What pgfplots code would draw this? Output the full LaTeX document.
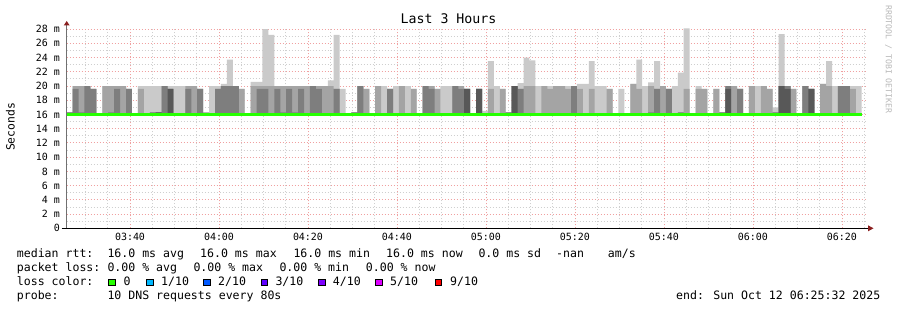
\documentclass[border=0pt]{standalone}
\usepackage{fontspec}
\setmainfont{DejaVu Sans Mono}
\setmonofont{DejaVu Sans Mono}
\usepackage{pgfplots}
\pgfplotsset{compat=1.18}
\usepackage{pgfplotstable}

\definecolor{smokeL}{HTML}{CACACA}
\definecolor{smokeM}{HTML}{A4A4A4}
\definecolor{smokeD}{HTML}{7E7E7E}
\definecolor{smokeK}{HTML}{585858}
\definecolor{medgreen}{HTML}{26FF00}
\definecolor{lc1}{HTML}{00B8FF}
\definecolor{lc2}{HTML}{0059FF}
\definecolor{lc3}{HTML}{5E00FF}
\definecolor{lc4}{HTML}{7E00FF}
\definecolor{lc5}{HTML}{DD00FF}
\definecolor{lc9}{HTML}{FF0000}
\definecolor{arrowred}{HTML}{8B2020}
\definecolor{ygrey}{HTML}{707070}
\definecolor{wmark}{HTML}{B8B8B8}
\definecolor{mgridc}{HTML}{F0A0A0}
\definecolor{ngridc}{HTML}{CFCFCF}

% smoke layers: K = 4th pair (darkest), D = 3rd, M = 2nd, L = outer (lightest); values in ms
\pgfplotstableread{
k K D M L
0 16 16.3 16.3 16.3
1 16 19.6 20 20
2 16 16.3 20 20
3 16 20 20 20
4 16 19.6 19.6 19.6
5 16 16 16 16.1
6 16 16 20 20
7 16 16.3 20 20
8 16 19.6 20 20
9 16 16 20 20
10 16 19.6 19.6 19.6
11 16 16 16 16.1
12 16 16 19.6 20
13 16 16 16 20
14 16 16.3 16.3 20
15 16.3 16.3 16.3 20
16 16 20 20 20
17 19.6 19.6 19.6 20
18 16 16 16 20
19 16 16 16 20
20 16 19.6 20 20
21 16 16 20 20
22 16 19.6 19.6 19.6
23 16 16 16.3 16.3
24 16 16 16 20
25 16 19.6 19.6 20
26 16 20 20 20.3
27 16 20 20 23.7
28 16 20 20 20
29 16 16 19.6 19.6
30 16 16 16 16.1
31 16 16 20 20.6
32 16 19.6 20 20.6
33 16 19.6 20 28
34 16 16 20 27.2
35 16 19.6 20 20
36 16 16.3 20 20
37 16 19.6 20 20
38 16 16.3 20 20
39 16 19.6 20 20
40 16 16 20 20
41 16 20 20 20
42 16 19.6 20 20
43 16 16 20 20
44 16 16 20 20.8
45 16 19.6 19.6 27.2
46 16 16 16 19.6
47 16 16 16 16
48 16 16.3 16.3 16.3
49 16 20 20 20
50 16 16 19.6 19.6
51 16 16 16 16
52 16 16 20 20
53 16 16 16 20
54 16 19.6 19.6 19.6
55 16 16 16 20
56 16 16 20 20
57 16 16 16 20
58 16 16 19.6 19.6
59 16 16 16 16.1
60 16 20 20 20
61 16 19.6 20 20
62 16 16 19.6 19.6
63 16 16 16 20
64 16 16 16 20
65 16 20 20 20
66 16 19.6 20 20
67 19.6 19.6 19.6 19.6
68 16 16 16 16
69 19.6 19.6 19.6 19.6
70 16 16 16 16.5
71 16 16 19.6 23.5
72 16 16 16 20
73 16 16 19.6 19.6
74 16 16.3 16.3 16.3
75 20 20 20 20
76 16 19.6 19.6 20.4
77 16 16 20 24
78 16 16 20 23.6
79 16 16 16 20
80 16 16 20 20
81 16 16 19.6 20
82 16 16 20 20
83 16 16 20 20
84 16 16 19.6 20
85 16 20 20 20
86 16 16 19.6 20.3
87 16 16 16 20.3
88 16 16 19.6 23.5
89 16 16 16 20
90 16 16 16 20
91 16 16 19.6 19.6
92 16 16 16 16
93 16 16 16 19.6
94 16 16 16 16.1
95 16 16 20.3 20.3
96 16 16 19.6 23.7
97 16 16 16 20
98 16 16.3 20 20.5
99 16 19.6 19.6 23.5
100 16 16 20 20
101 16 19.6 19.6 19.6
102 16 16 16 20
103 16 16.3 16.3 21.9
104 16 16 19.6 28.1
105 16 16 16 16
106 16 16 19.6 20
107 16 16 19.6 19.6
108 16 16 16 16
109 16 16 19.6 19.6
110 16 16.3 16.3 16.3
111 19.6 20 20 20
112 16 16 20 20
113 16 19.6 19.6 19.6
114 16 16 16 16
115 16 16 20 20
116 16 16 16 20
117 16 16 20 20
118 16 16 19.6 19.6
119 16 16.3 16.3 17
120 20 20 20 27.3
121 19.6 20 20 20
122 16 16 19.6 19.6
123 16 16 16 16
124 16 20 20 20
125 19.6 19.6 19.6 19.6
126 16 16 16 16
127 16 16 20.3 20.3
128 16 16 20 23.5
129 16 16 16 20
130 16 20 20 20
131 16 20 20 20
132 16 16 19.6 20
133 16 16 16 20
134 16 16 16 20
}\smoke

\begin{document}
\begin{tikzpicture}
\useasboundingbox (0,0) rectangle (897bp,310bp);
\begin{axis}[
  at={(66.7bp,81.7bp)}, anchor=south west,
  scale only axis, width=800bp, height=200.6bp,
  xmin=0, xmax=134.84, ymin=0, ymax=28.2,
  axis line style={draw=none},
  tick style={draw=none},
  xtick={10.67,25.67,...,131},
  xticklabels={03:40,04:00,04:20,04:40,05:00,05:20,05:40,06:00,06:20},
  minor xtick={3.17,6.92,...,134.5},
  ytick={0,2,...,28},
  yticklabels={0,2 m,4 m,6 m,8 m,10 m,12 m,14 m,16 m,18 m,20 m,22 m,24 m,26 m,28 m},
  minor ytick={1,3,...,27},
  grid=both,
  major grid style={color=mgridc, line width=0.9bp, dash pattern=on 1bp off 2bp},
  minor grid style={color=ngridc, line width=0.9bp, dash pattern=on 1bp off 2bp},
  ticklabel style={font=\fontsize{10}{12}\selectfont, text=black},
  yticklabel style={xshift=-3.4bp},
  xticklabel style={yshift=-1.5bp},
  /pgf/number format/assume math mode=true,
]
\addplot[const plot, draw=none, fill=smokeL] table[x=k,y=L]{\smoke} -- (axis cs:134,16) -- (axis cs:0,16) -- cycle;
\addplot[const plot, draw=none, fill=smokeM] table[x=k,y=M]{\smoke} -- (axis cs:134,16) -- (axis cs:0,16) -- cycle;
\addplot[const plot, draw=none, fill=smokeD] table[x=k,y=D]{\smoke} -- (axis cs:134,16) -- (axis cs:0,16) -- cycle;
\addplot[const plot, draw=none, fill=smokeK] table[x=k,y=K]{\smoke} -- (axis cs:134,16) -- (axis cs:0,16) -- cycle;
\addplot[medgreen, line width=2.6bp] coordinates {(0,16) (134,16)};
\end{axis}

% axes and arrows
\draw[ygrey, line width=1.5bp] (66.7bp,81.7bp) -- (66.7bp,285bp);
\fill[arrowred] (63.7bp,284.5bp) -- (69.7bp,284.5bp) -- (66.7bp,289bp) -- cycle;
\draw[black, line width=1.5bp] (61.7bp,81.7bp) -- (868.5bp,81.7bp);
\fill[arrowred] (868bp,78.7bp) -- (868bp,84.7bp) -- (873.5bp,81.7bp) -- cycle;

% title and labels
\node[anchor=base, inner sep=0, font=\fontsize{13.3}{16}\selectfont] at (448.5bp,286bp) {Last 3 Hours};
\node[rotate=90, inner sep=0, font=\fontsize{11.4}{14}\selectfont] at (10.5bp,183bp) {Seconds};
\node[rotate=-90, anchor=west, inner sep=0, text=wmark, font=\fontsize{8.2}{10}\selectfont] at (888.5bp,305bp) {RRDTOOL / TOBI OETIKER};

% legend
\begin{scope}[every node/.style={anchor=base west, inner sep=0, font=\fontsize{11.6}{14}\selectfont}]
\node at (16.7bp,52.2bp) {median rtt:};
\node at (107.3bp,52.2bp) {16.0 ms avg};
\node at (200bp,52.2bp) {16.0 ms max};
\node at (293.3bp,52.2bp) {16.0 ms min};
\node at (386bp,52.2bp) {16.0 ms now};
\node at (478.3bp,52.2bp) {0.0 ms sd};
\node at (556bp,52.2bp) {-nan};
\node at (607.7bp,52.2bp) {am/s};

\node at (16.7bp,38.2bp) {packet loss:};
\node at (107.3bp,38.2bp) {0.00 \% avg};
\node at (193.3bp,38.2bp) {0.00 \% max};
\node at (279.3bp,38.2bp) {0.00 \% min};
\node at (365.7bp,38.2bp) {0.00 \% now};

\node at (16.7bp,24.2bp) {loss color:};
\node at (123.3bp,24.2bp) {0};
\node at (161bp,24.2bp) {1/10};
\node at (218bp,24.2bp) {2/10};
\node at (275.3bp,24.2bp) {3/10};
\node at (332.7bp,24.2bp) {4/10};
\node at (390bp,24.2bp) {5/10};
\node at (450bp,24.2bp) {9/10};

\node at (16.7bp,10.2bp) {probe:};
\node at (107.3bp,10.2bp) {10 DNS requests every 80s};
\node[anchor=base east] at (880.5bp,10.2bp) {end: Sun Oct 12 06:25:32 2025};
\end{scope}

\foreach \bx/\bc in {108.3/medgreen,146.7/lc1,203.3/lc2,261/lc3,318.3/lc4,375.7/lc5,435/lc9}{
  \filldraw[fill=\bc, draw=black, line width=0.8bp] (\bx bp,24.2bp) rectangle ++(6.7bp,6.7bp);
}
\end{tikzpicture}
\end{document}
